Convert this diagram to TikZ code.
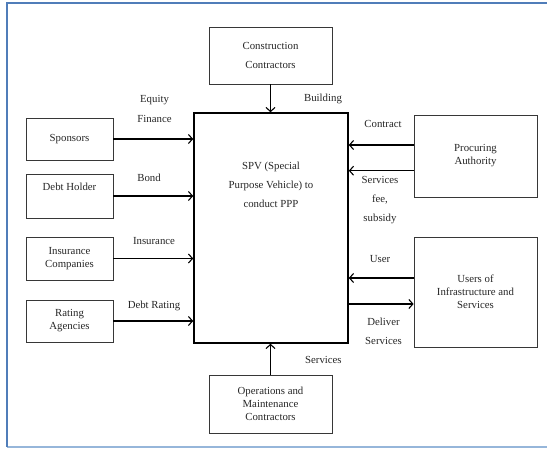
\documentclass[tikz,border=0pt]{standalone}
\usepackage{fontspec}
\setmainfont{Liberation Serif}
\definecolor{frameblue}{RGB}{80, 125, 185}
\definecolor{framelight}{RGB}{150, 182, 218}
\definecolor{boxgray}{RGB}{55, 55, 55}
\usepackage{tikz}
\usetikzlibrary{arrows.meta, positioning}

\begin{document}
\begin{tikzpicture}[x=1pt, y=-1pt,
  every node/.style={font=\fontsize{10.8}{13}\selectfont, text=black!85},
  box/.style={draw=boxgray, line width=0.8pt, rectangle, align=center, inner sep=0pt},
  spvbox/.style={draw=black, line width=1.6pt, rectangle},
  lbl/.style={align=center, inner sep=0pt},
  flow/.style={->, line width=1.1pt},
  >={Straight Barb[length=4pt, width=9pt]}]
\useasboundingbox (0,0) rectangle (547,449);
% page frame
\draw[framelight, line width=2pt] (6.5,447.5) -- (560,447.5);
\draw[frameblue, line width=2pt] (560,3.5) -- (6.5,3.5) -- (6.5,447.5);
% centre and outer parties
\node[spvbox, minimum width=154pt, minimum height=230pt] (spv) at (271,228) {};
\node[lbl] (spvtext) at (271,185) {SPV (Special\\[6pt]Purpose Vehicle) to\\[6pt]conduct PPP};
\node[box, minimum width=123pt, minimum height=57pt] (constr) at (270.5,55.5) {Construction\\[6pt]Contractors};
\node[box, minimum width=123pt, minimum height=58pt] (ops) at (270.5,404) {Operations and\\Maintenance\\Contractors};
\node[box, minimum width=87pt, minimum height=42pt] (spons) at (69.5,139) {Sponsors};
\node[box, minimum width=87pt, minimum height=44pt, text depth=18pt] (debt) at (69.5,196) {Debt Holder};
\node[box, minimum width=87pt, minimum height=43pt] (insur) at (69.5,258.5) {Insurance\\Companies};
\node[box, minimum width=87pt, minimum height=42pt] (rating) at (69.5,321) {Rating\\Agencies};
\node[box, minimum width=123pt, minimum height=82pt] (proc) at (475.5,156) {Procuring\\Authority};
\node[box, minimum width=123pt, minimum height=110pt] (users) at (475.5,292) {Users of\\Infrastructure and\\Services};
% flows
\draw[flow] (constr.south) -- (constr.south |- spv.north);
\draw[flow] (ops.north) -- (ops.north |- spv.south);
\draw[flow] (spons.east) -- (spons.east -| spv.west);
\draw[flow] (debt.east) -- (debt.east -| spv.west);
\draw[flow] (insur.east) -- (insur.east -| spv.west);
\draw[flow] (rating.east) -- (rating.east -| spv.west);
\draw[flow] ([yshift=11pt]proc.west) -- ([yshift=11pt]proc.west -| spv.east);
\draw[flow] ([yshift=-14.7pt]proc.west) -- ([yshift=-14.7pt]proc.west -| spv.east);
\draw[flow] ([yshift=14pt]users.west) -- ([yshift=14pt]users.west -| spv.east);
\draw[flow] ([yshift=-12pt]users.west -| spv.east) -- ([yshift=-12pt]users.west);
% labels
\node[lbl] (equity) at (154.5,109) {Equity\\[7pt]Finance};
\node[lbl] (bond) at (149,178.3) {Bond};
\node[lbl] (insurance) at (154,241) {Insurance};
\node[lbl] (debtrating) at (154,306) {Debt Rating};
\node[lbl] (building) at (323,99) {Building};
\node[lbl] (contract) at (383,124) {Contract};
\node[lbl] (fee) at (380,200.5) {Services\\[6pt]fee,\\[6pt]subsidy};
\node[lbl] (user) at (380,259) {User};
\node[lbl] (deliver) at (383.5,331) {Deliver\\[6pt]Services};
\node[lbl] (services) at (323.4,360) {Services};
\end{tikzpicture}
\end{document}
